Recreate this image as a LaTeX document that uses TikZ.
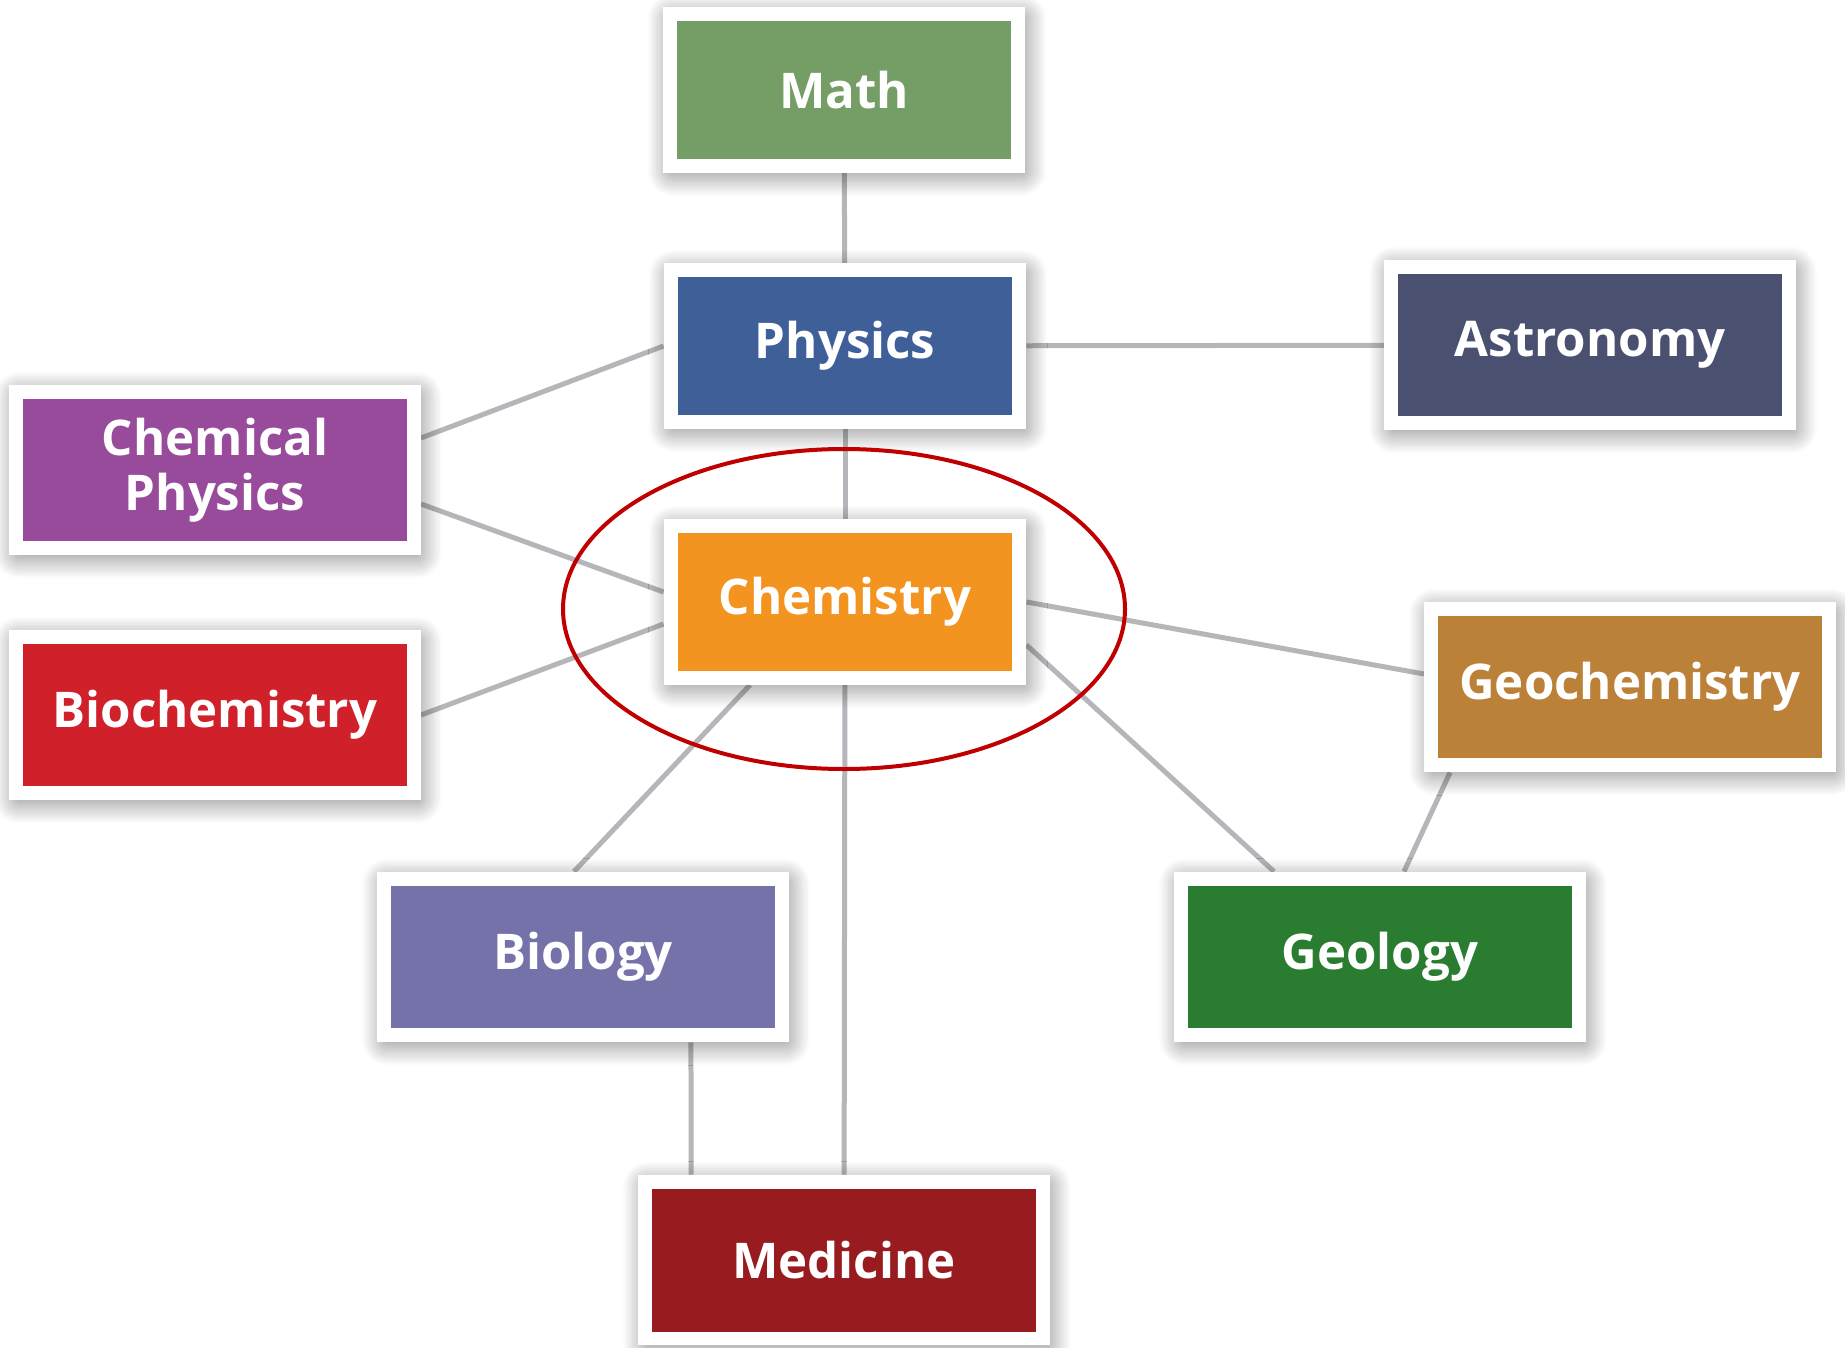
\documentclass[tikz,border=0pt]{standalone}
\usepackage{fontspec}
\setmainfont{Open Sans}
\usetikzlibrary{backgrounds}
\usetikzlibrary{shadows.blur}
\definecolor{mathgreen}{HTML}{749E65}
\definecolor{physblue}{HTML}{3F5F99}
\definecolor{astroslate}{HTML}{4A5170}
\definecolor{chphyspurple}{HTML}{984A9B}
\definecolor{biochemred}{HTML}{D0212A}
\definecolor{chemorange}{HTML}{F39320}
\definecolor{geochembrown}{HTML}{BB8138}
\definecolor{biolavender}{HTML}{7572AA}
\definecolor{geogreen}{HTML}{2A7D30}
\definecolor{medred}{HTML}{981B1F}
\definecolor{linkgrey}{HTML}{B5B6BA}
\definecolor{ringred}{HTML}{C00000}

\begin{document}
\begin{tikzpicture}[x=0.02cm, y=-0.02cm,
    field/.style={draw=white, line width=0.28cm, text=white, align=center,
      font=\fontsize{28}{31}\selectfont\bfseries, inner sep=0pt,
      blur shadow={shadow xshift=0.06cm, shadow yshift=-0.1cm,
        shadow blur radius=0.5cm, shadow blur steps=12, shadow opacity=60}},
    corebox/.style={field, minimum width=6.98cm, minimum height=3.04cm},
    sidebox/.style={field, minimum width=7.96cm, minimum height=3.14cm},
    linkline/.style={draw=linkgrey, line width=0.1cm}]
    \useasboundingbox (0,0) rectangle (1845,1348);

    \node[corebox, fill=mathgreen] (math) at (844,90) {Math};
    \node[corebox, fill=physblue] (physics) at (845,346) {Physics};
    \node[sidebox, fill=astroslate] (astronomy) at (1590,345) {Astronomy};
    \node[sidebox, fill=chphyspurple] (chemphys) at (215,470) {Chemical\\Physics};
    \node[sidebox, fill=biochemred] (biochem) at (215,715) {Biochemistry};
    \node[corebox, fill=chemorange] (chemistry) at (845,602) {Chemistry};
    \node[sidebox, fill=geochembrown] (geochem) at (1630,687) {Geochemistry};
    \node[sidebox, fill=biolavender] (biology) at (583,957) {Biology};
    \node[sidebox, fill=geogreen] (geology) at (1380,957) {Geology};
    \node[sidebox, fill=medred] (medicine) at (844,1260) {Medicine};

    \begin{scope}[on background layer]
      \draw[linkline] (math) -- (physics);
      \draw[linkline] (physics) -- (astronomy);
      \draw[linkline] (physics) -- (chemistry);
      \draw[linkline] (physics.west) -- ([yshift=0.64cm]chemphys.east);
      \draw[linkline] ([yshift=-0.68cm]chemphys.east) -- ([yshift=0.2cm]chemistry.west);
      \draw[linkline] (biochem.east) -- ([yshift=-0.44cm]chemistry.west);
      \draw[linkline] (chemistry.east) -- ([yshift=0.26cm]geochem.west);
      \draw[linkline] ([yshift=-0.86cm]chemistry.east) -- ([xshift=-2.12cm]geology.north);
      \draw[linkline] ([xshift=-3.6cm]geochem.south) -- ([xshift=0.48cm]geology.north);
      \draw[linkline] ([xshift=-1.9cm]chemistry.south) -- ([xshift=-0.18cm]biology.north);
      \draw[linkline] (chemistry) -- (medicine);
      \draw[linkline] ([xshift=2.16cm]biology.south) -- ([xshift=-3.06cm]medicine.north);
    \end{scope}

    \draw[ringred, line width=0.08cm] (844,609) ellipse [x radius=281, y radius=160];
\end{tikzpicture}
\end{document}
